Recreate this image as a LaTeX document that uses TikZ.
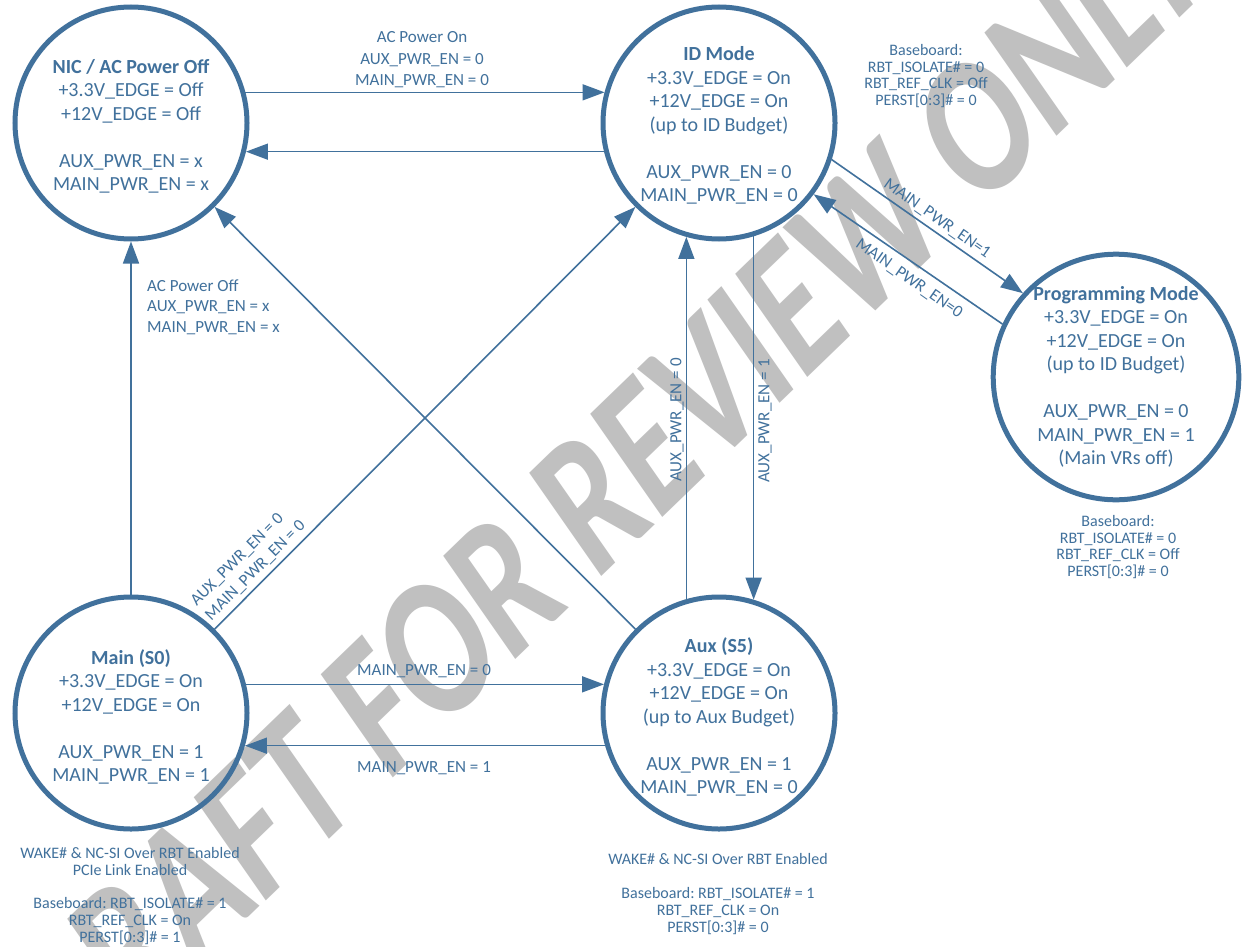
\documentclass[tikz,border=0pt]{standalone}
\usepackage{fontspec}
\setmainfont{Carlito}
\usetikzlibrary{arrows.meta}
\definecolor{vblue}{HTML}{41719C}
\definecolor{wmgray}{HTML}{C0C0C0}
\newcommand\mystrut[1]{\rule{0pt}{#1}}
\begin{document}
\frenchspacing
\begin{tikzpicture}[x=1pt,y=-1pt,
  state/.style={circle, draw=vblue, line width=5pt, minimum size=232pt, inner sep=0pt, align=center, text=vblue, font=\fontsize{20}{23.5}\selectfont},
  conn/.style={draw=vblue, line width=1.6pt, -{Triangle[length=22pt,width=16pt]}},
  lbl/.style={text=vblue, font=\fontsize{17}{20.5}\selectfont, inner sep=0pt, align=center},
  note/.style={text=vblue, font=\fontsize{16}{16.8}\selectfont, inner sep=0pt, align=center},
  wm/.style={text=wmgray, font=\bfseries\fontsize{206}{206}\selectfont, inner sep=0pt}
]
\useasboundingbox (0,0) rectangle (1244,947);
\fill[white] (0,0) rectangle (1244,947);
\begin{scope}
\clip (0,0) rectangle (1244,947);
\begin{scope}[xscale=0.85]
\node[wm, transform shape, rotate=39.4, xscale=0.80, anchor=base west] (wmark) at (76.9,1094.8) {DRAFT FOR REVIEW ONLY};
\end{scope}
\end{scope}

\node[state] (nic) at (131,123) {\mystrut{21pt}\textbf{NIC / AC Power Off}\\+3.3V\_EDGE = Off\\+12V\_EDGE = Off\\[23.5pt]AUX\_PWR\_EN = x\\MAIN\_PWR\_EN = x};
\node[state] (id) at (719,123) {\mystrut{19pt}\textbf{ID Mode}\\+3.3V\_EDGE = On\\+12V\_EDGE = On\\(up to ID Budget)\\[23.5pt]AUX\_PWR\_EN = 0\\MAIN\_PWR\_EN = 0};
\node[state, minimum size=242pt] (prog) at (1116,377) {\textbf{Programming Mode}\\+3.3V\_EDGE = On\\+12V\_EDGE = On\\(up to ID Budget)\\[23.5pt]AUX\_PWR\_EN = 0\\MAIN\_PWR\_EN = 1\\(Main VRs off)};
\node[state] (main) at (131,713) {\mystrut{23pt}\textbf{Main (S0)}\\+3.3V\_EDGE = On\\+12V\_EDGE = On\\[23.5pt]AUX\_PWR\_EN = 1\\MAIN\_PWR\_EN = 1};
\node[state] (aux) at (719,713) {\mystrut{23pt}\textbf{Aux (S5)}\\+3.3V\_EDGE = On\\+12V\_EDGE = On\\(up to Aux Budget)\\[23.5pt]AUX\_PWR\_EN = 1\\MAIN\_PWR\_EN = 0};

\draw[conn] (nic.15) -- (id.165);
\draw[conn] (id.194) -- (nic.-14);
\draw[conn] (main.north) -- (nic.south);
\draw[conn] (aux) -- (nic);
\draw[conn] (main) -- (id);
\draw[conn] (aux.106) -- (id.254);
\draw[conn] (id.287) -- (aux.73);
\draw[conn] (main.14) -- (aux.166);
\draw[conn] (aux.196) -- (main.-16);
\draw[conn] (id.-18) -- (prog.138);
\draw[conn] (prog.155) -- (id.-37);

\node[lbl, font=\fontsize{17}{21.5}\selectfont] (l1) at (422,60) {AC Power On\\AUX\_PWR\_EN = 0\\MAIN\_PWR\_EN = 0};
\node[lbl, align=left, anchor=west] (l3) at (147,307) {AC Power Off\\AUX\_PWR\_EN = x\\MAIN\_PWR\_EN = x};
\node[lbl, align=left, rotate=45, anchor=south west] (l5) at (213,623) {AUX\_PWR\_EN = 0\\MAIN\_PWR\_EN = 0};
\node[lbl, rotate=90] (l6) at (677,420) {AUX\_PWR\_EN = 0};
\node[lbl, rotate=90] (l7) at (765,421) {AUX\_PWR\_EN = 1};
\node[lbl] (l8) at (424,671) {MAIN\_PWR\_EN = 0};
\node[lbl] (l9) at (424,768) {MAIN\_PWR\_EN = 1};
\node[lbl, rotate=-35] (l10) at (937,219) {MAIN\_PWR\_EN=1};
\node[lbl, rotate=-35] (l11) at (909,279) {MAIN\_PWR\_EN=0};

\node[note] (n1) at (926,76) {Baseboard:\\RBT\_ISOLATE\# = 0\\RBT\_REF\_CLK = Off\\PERST[0:3]\# = 0};
\node[note] (n2) at (1118,547) {Baseboard:\\RBT\_ISOLATE\# = 0\\RBT\_REF\_CLK = Off\\PERST[0:3]\# = 0};
\node[note] (n3) at (130,896) {WAKE\# \& NC-SI Over RBT Enabled\\PCIe Link Enabled\\[16.8pt]Baseboard: RBT\_ISOLATE\# = 1\\RBT\_REF\_CLK = On\\PERST[0:3]\# = 1};
\node[note] (n4) at (718,894) {WAKE\# \& NC-SI Over RBT Enabled\\[16.8pt]Baseboard: RBT\_ISOLATE\# = 1\\RBT\_REF\_CLK = On\\PERST[0:3]\# = 0};
\end{tikzpicture}
\end{document}
